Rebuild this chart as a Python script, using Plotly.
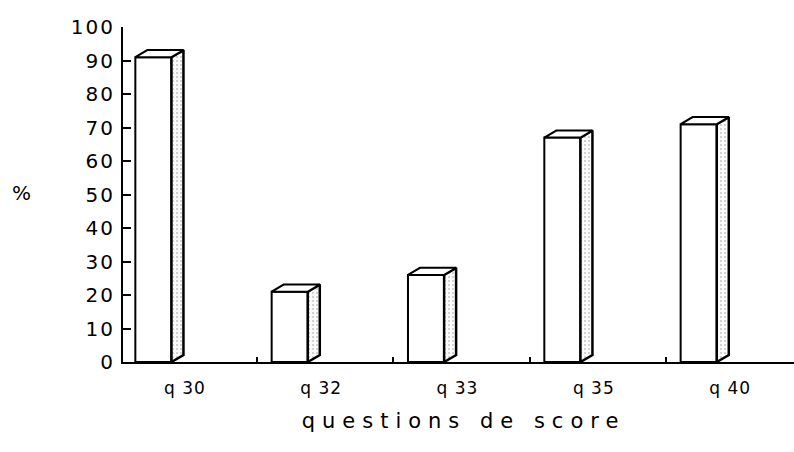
import numpy as np
import plotly.graph_objects as go

# Percent of correct answers per score question
categories = ["q 30", "q 32", "q 33", "q 35", "q 40"]
percent = [91, 21, 26, 67, 71]
y_ticks = list(range(0, 101, 10))

# Geometry of the pseudo-3D blocks (in axis units)
SHIFT = -0.26      # blocks sit a little left of the category centre
HALF = 0.1325      # half width of the front face
DX = 0.088         # depth offset along x
DY = 2.1           # depth offset along y

slots = np.arange(len(categories))
fronts = slots + SHIFT

fig = go.Figure()

# front faces
fig.add_trace(go.Bar(
    x=fronts, y=percent, width=2 * HALF,
    marker=dict(color="white", line=dict(color="black", width=2)),
    hoverinfo="skip",
))

for xc, v in zip(fronts, percent):
    left, right = xc - HALF, xc + HALF
    # stippled side face
    fig.add_trace(go.Scatter(
        x=[right, right + DX, right + DX, right, right],
        y=[0, DY, v + DY, v, 0],
        mode="lines", fill="toself", fillcolor="white",
        fillpattern=dict(shape=".", fgcolor="#333333", bgcolor="#fbfbfb",
                         size=4, solidity=0.12),
        line=dict(color="black", width=2.5), hoverinfo="skip",
    ))
    # top face
    fig.add_trace(go.Scatter(
        x=[left, left + DX, right + DX, right, left],
        y=[v, v + DY, v + DY, v, v],
        mode="lines", fill="toself", fillcolor="white",
        line=dict(color="black", width=2), hoverinfo="skip",
    ))

FONT = "DejaVu Sans"

fig.update_layout(
    width=794, height=452,
    margin=dict(l=123, r=0, t=27, b=90),
    paper_bgcolor="white", plot_bgcolor="white",
    showlegend=False,
    xaxis=dict(
        range=[-0.483, 4.439],
        tickvals=slots, ticktext=categories,
        ticks="", showline=True, linewidth=2, linecolor="black",
        showgrid=False, zeroline=False,
        tickfont=dict(family=FONT, size=17, color="black"),
        ticklabelstandoff=10, ticklabelshift=-4,
        minor=dict(tickvals=[0.5, 1.5, 2.5, 3.5], ticks="inside",
                   ticklen=5, tickwidth=1.5, tickcolor="black"),
        title=dict(text="questions de score",
                   font=dict(family=FONT, size=21, color="black"),
                   standoff=16),
    ),
    yaxis=dict(
        range=[0, 100], tickvals=y_ticks,
        ticks="inside", ticklen=8, tickwidth=2, tickcolor="black",
        showline=True, linewidth=2, linecolor="black",
        showgrid=False, zeroline=False,
        tickfont=dict(family=FONT, size=20, color="black"),
        ticklabelstandoff=2,
    ),
    annotations=[dict(
        text="%", xref="paper", yref="paper", x=-0.152, y=0.505,
        xanchor="center", yanchor="middle", showarrow=False,
        font=dict(family=FONT, size=20, color="black"),
    )],
)

spacing_js = """
var gd = document.getElementById('{plot_id}');
function spread() {
  gd.querySelectorAll('.xtitle').forEach(function(e){ e.style.letterSpacing = '7px'; });
  gd.querySelectorAll('.xtitle').forEach(function(e){ e.setAttribute('dx', '5'); });
  gd.querySelectorAll('.ytick text').forEach(function(e){ e.style.letterSpacing = '2px'; });
  gd.querySelectorAll('.xtick text').forEach(function(e){ e.style.letterSpacing = '1px'; });
}
spread();
gd.on('plotly_afterplot', spread);
"""

fig.write_html("out.html", post_script=spacing_js)
